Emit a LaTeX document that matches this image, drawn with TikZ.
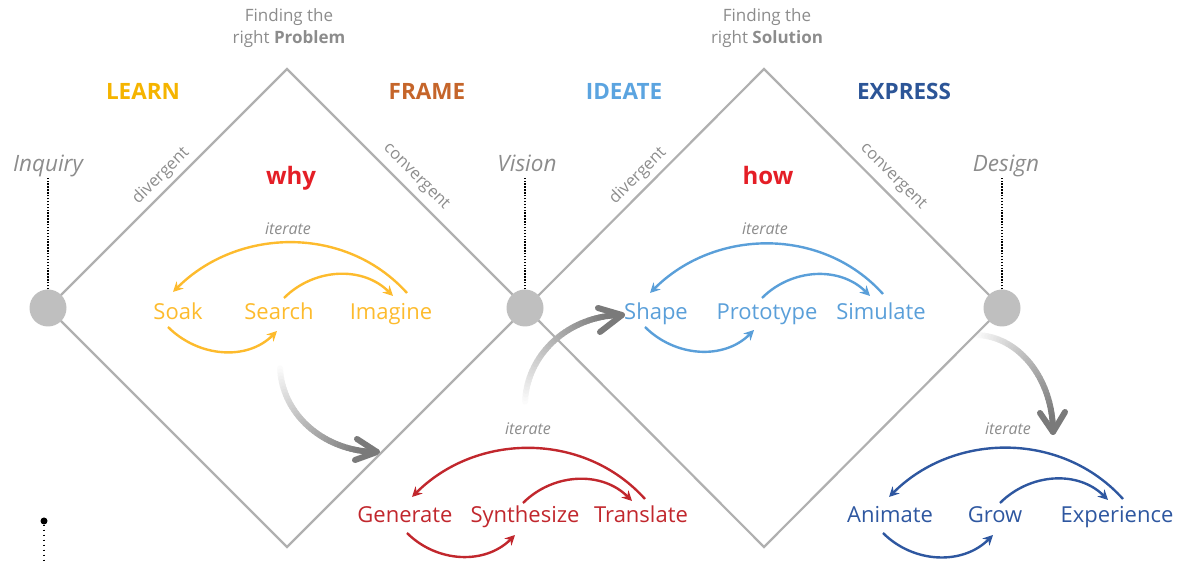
\documentclass[tikz,border=0pt]{standalone}
\usepackage{fontspec}
\setmainfont{Open Sans}
\usetikzlibrary{calc,arrows.meta}
\definecolor{cyel}{HTML}{FDBB2D}
\definecolor{clearn}{HTML}{F5B400}
\definecolor{cframe}{HTML}{C5652A}
\definecolor{cideate}{HTML}{5BA4E0}
\definecolor{cexpress}{HTML}{2C5597}
\definecolor{cred}{HTML}{C1272D}
\definecolor{clblue}{HTML}{5A9FD9}
\definecolor{cdblue}{HTML}{2E57A0}
\definecolor{qred}{HTML}{E41E26}
\definecolor{tgray}{HTML}{8C8C8C}
\definecolor{agray}{HTML}{7A7A7A}
\definecolor{dgray}{HTML}{B0B0B0}
\definecolor{hubgray}{HTML}{BFBFBF}
\newcommand\gradarc[6]{%
  \foreach \i in {0,...,39}{%
    \pgfmathsetmacro\aa{#5+(#6-#5)*\i/40}%
    \pgfmathsetmacro\ab{#5+(#6-#5)*(\i+1)/40}%
    \pgfmathsetmacro\pp{min(100,\i*2.8)}%
    \draw[line width=6pt, color=agray!\pp!white, line cap=round]
      ({#1+#3*cos(\aa)},{#2+#4*sin(\aa)}) -- ({#1+#3*cos(\ab)},{#2+#4*sin(\ab)});
  }}
\tikzset{
  dline/.style={draw=dgray, line width=2.2pt},
  hub/.style={circle, fill=hubgray, minimum size=37pt, inner sep=0pt},
  dotline/.style={line width=1.6pt, dash pattern=on 1.4pt off 1.5pt},
  stage/.style={font=\fontsize{22.5}{26}\selectfont\bfseries},
  item/.style={font=\fontsize{22}{25}\selectfont, inner sep=0pt, text height=18pt, text depth=0pt},
  place/.style={font=\fontsize{22.5}{25}\selectfont\itshape, text=tgray, inner sep=0pt, text height=18pt, text depth=0pt},
  quest/.style={font=\fontsize{24}{28}\selectfont\bfseries, text=qred, inner sep=0pt, text height=18pt, text depth=0pt},
  note/.style={font=\fontsize{17}{22}\selectfont, text=tgray, align=center},
  side/.style={font=\fontsize{16.5}{18}\selectfont, text=tgray, inner sep=0pt},
  iter/.style={font=\fontsize{16}{18}\selectfont\itshape, text=tgray, inner sep=0pt},
  cyc/.style={line width=2.4pt, -{Stealth[length=10pt,width=10pt]}},
  chev/.style={agray, line width=6pt, line cap=round, line join=round},
}
\begin{document}
\begin{tikzpicture}[x=1pt,y=1pt]
\useasboundingbox (0,0) rectangle (1192,561);

% gradient arrows
\gradarc{377}{196}{97}{87}{180}{270}
\coordinate (t1) at (377,109);
\draw[chev] ($(t1)+(-20,13)$) -- (t1) -- ($(t1)+(-22,-8)$);
\gradarc{622}{156}{97}{90}{180}{90}
\coordinate (t2) at (622,246);
\draw[chev] ($(t2)+(-24,7)$) -- (t2) -- ($(t2)+(-22,-17)$);
\gradarc{975}{129}{78}{97}{90}{0}
\coordinate (t3) at (1053,129);
\draw[chev] ($(t3)+(-13,19)$) -- (t3) -- ($(t3)+(12,20)$);

% diamonds
\draw[dline] (48,253) -- (287,492) -- (526,253) -- (287,14) -- cycle;
\draw[dline] (526,253) -- (764,492) -- (1002,253) -- (764,14) -- cycle;

% hubs and dotted lines
\node[hub] (h1) at (48,253) {};
\node[hub] (h2) at (525,253) {};
\node[hub] (h3) at (1002,253) {};
\coordinate (d1) at (48,384);
\coordinate (d2) at (525,384);
\coordinate (d3) at (1002,384);
\draw[dotline] (h1.north) -- (d1);
\draw[dotline] (h2.north) -- (d2);
\draw[dotline] (h3.north) -- (d3);
\node[place] (inquiry) at (48,398) {Inquiry};
\node[place] (vision) at (527,398) {Vision};
\node[place] (design) at (1006,398) {Design};

% bottom-left dot
\node[circle, fill=black, minimum size=7pt, inner sep=0pt] (bdot) at (44,40) {};
\coordinate (bend) at (44,0);
\draw[line width=1.6pt, dash pattern=on 1.8pt off 3.2pt] (bdot.south) -- (bend);

% headings
\node[note] (fp) at (289,533) {Finding the\\right \textbf{Problem}};
\node[note] (fs) at (767,533) {Finding the\\right \textbf{Solution}};
\node[stage, text=clearn] (learn) at (143,470) {LEARN};
\node[stage, text=cframe] (frame) at (427,470) {FRAME};
\node[stage, text=cideate] (ideate) at (624,470) {IDEATE};
\node[stage, text=cexpress] (express) at (904,470) {EXPRESS};
\node[quest] (why) at (291,385) {why};
\node[quest] (how) at (768,385) {how};

% side labels
\node[side, rotate=45] (dv1) at (161,385) {divergent};
\node[side, rotate=-45] (cv1) at (416,384) {convergent};
\node[side, rotate=45] (dv2) at (638,385) {divergent};
\node[side, rotate=-45] (cv2) at (893,384) {convergent};

% iterate labels
\node[iter] (it1) at (288,332) {iterate};
\node[iter] (it2) at (765,332) {iterate};
\node[iter] (it3) at (528,132) {iterate};
\node[iter] (it4) at (1008,132) {iterate};

% yellow group
\node[item, text=cyel] (soak) at (178,250) {Soak};
\node[item, text=cyel] (search) at (279,250) {Search};
\node[item, text=cyel] (imagine) at (391,250) {Imagine};
\draw[cyc, cyel] ($(imagine)+(16,18)$) to[out=132,in=45] ($(soak)+(-5,19)$);
\draw[cyc, cyel] ($(search)+(5,13)$) to[out=45,in=135] ($(imagine)+(2,15)$);
\draw[cyc, cyel] ($(soak)+(-10,-16)$) to[out=-45,in=-135] ($(search)+(-2,-20)$);

% red group
\node[item, text=cred] (generate) at (405,47) {Generate};
\node[item, text=cred] (synth) at (525,47) {Synthesize};
\node[item, text=cred] (translate) at (641,47) {Translate};
\draw[cyc, cred] ($(translate)+(4,15)$) to[out=132,in=45] ($(generate)+(7,17)$);
\draw[cyc, cred] ($(synth)+(-2,11)$) to[out=45,in=135] ($(translate)+(-9,13)$);
\draw[cyc, cred] ($(generate)+(2,-19)$) to[out=-45,in=-135] ($(synth)+(-10,-21)$);

% light blue group
\node[item, text=clblue] (shape) at (656,250) {Shape};
\node[item, text=clblue] (proto) at (767,250) {Prototype};
\node[item, text=clblue] (simulate) at (881,250) {Simulate};
\draw[cyc, clblue] ($(simulate)+(2,17)$) to[out=132,in=45] ($(shape)+(-6,18)$);
\draw[cyc, clblue] ($(proto)+(-5,13)$) to[out=45,in=135] ($(simulate)+(-11,15)$);
\draw[cyc, clblue] ($(shape)+(-11,-16)$) to[out=-45,in=-135] ($(proto)+(-13,-19)$);

% dark blue group
\node[item, text=cdblue] (animate) at (890,47) {Animate};
\node[item, text=cdblue] (grow) at (995,47) {Grow};
\node[item, text=cdblue] (experience) at (1117,47) {Experience};
\draw[cyc, cdblue] ($(experience)+(6,15)$) to[out=132,in=45] ($(animate)+(-1,17)$);
\draw[cyc, cdblue] ($(grow)+(5,11)$) to[out=45,in=135] ($(experience)+(-9,14)$);
\draw[cyc, cdblue] ($(animate)+(-7,-19)$) to[out=-45,in=-135] ($(grow)+(-2,-21)$);
\end{tikzpicture}
\end{document}
